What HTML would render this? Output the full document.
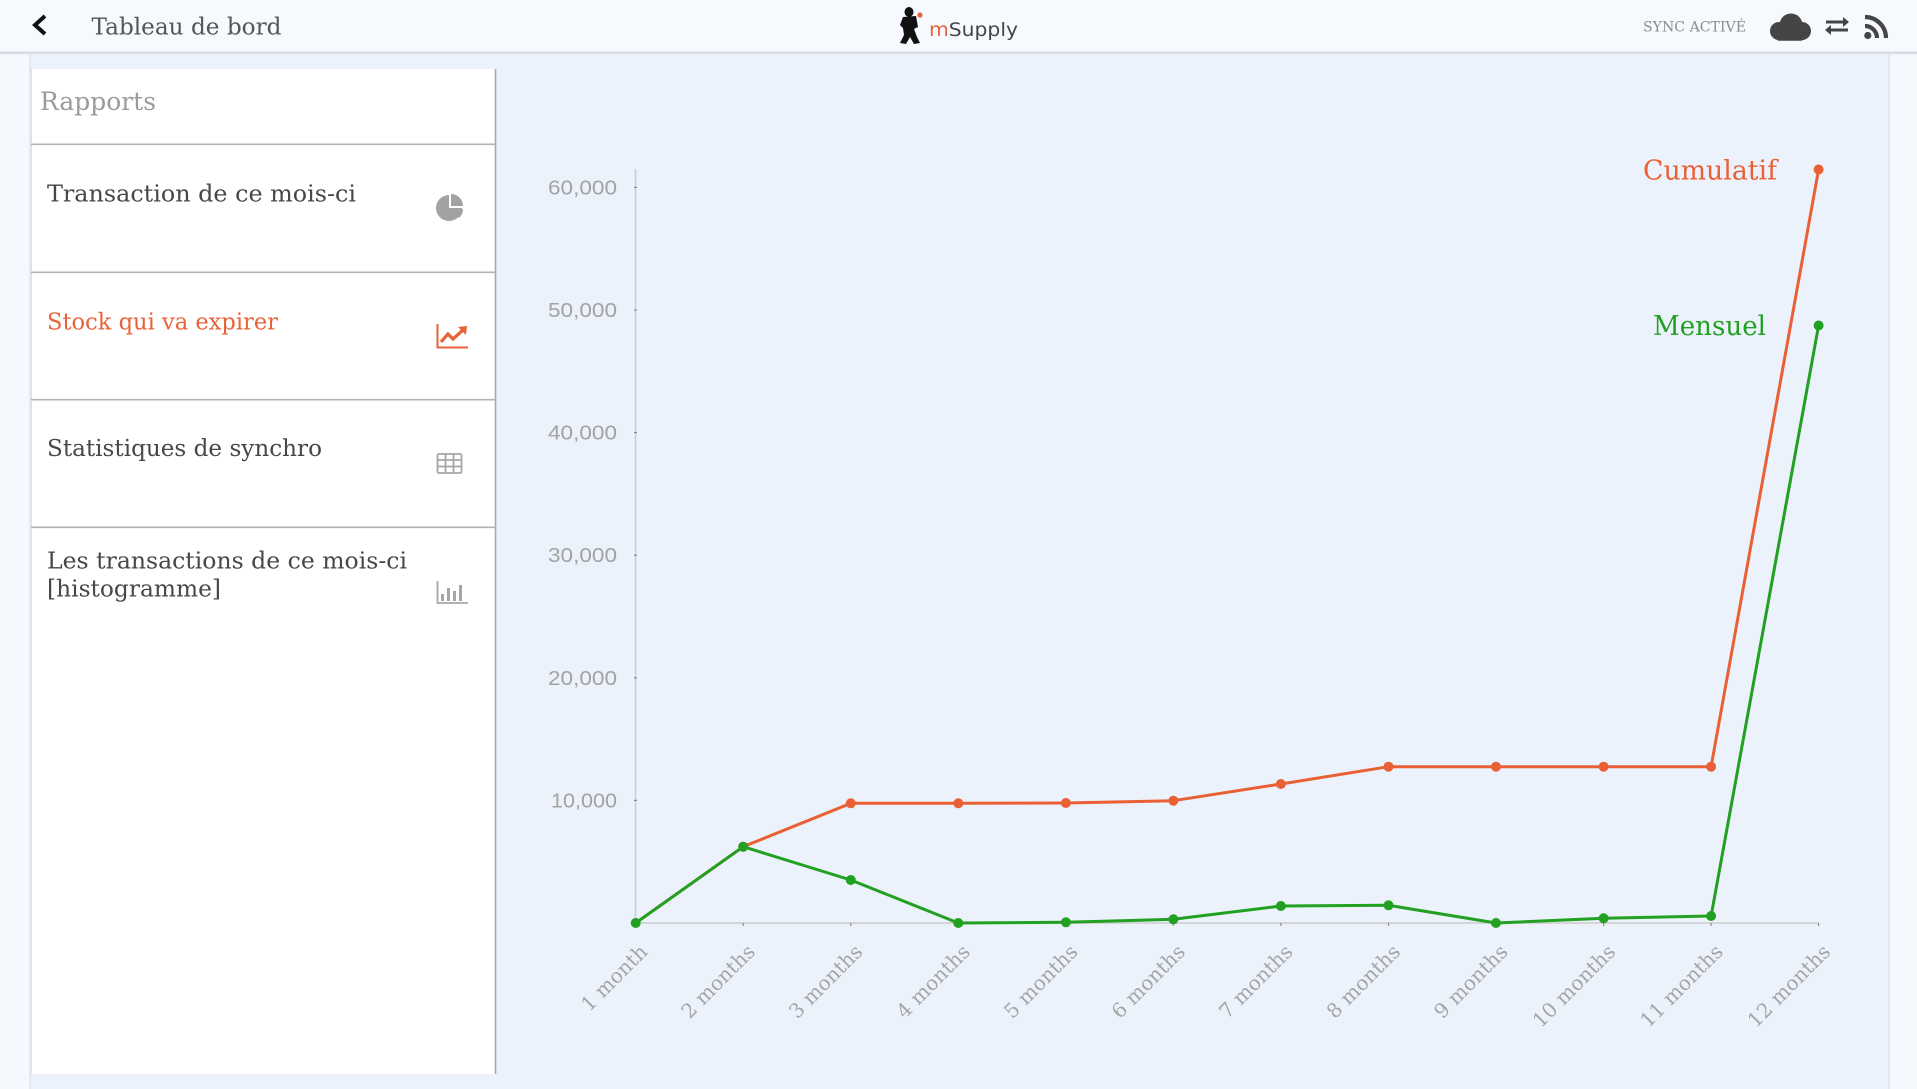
<!DOCTYPE html>
<html><head><meta charset="utf-8"><style>
html,body{margin:0;padding:0;width:1917px;height:1089px;overflow:hidden;background:#f5f8fd;}
svg{display:block;}
</style></head><body>
<svg width="1917" height="1089" viewBox="0 0 1917 1089" xmlns="http://www.w3.org/2000/svg">
<rect x="0" y="0" width="1917" height="1089" fill="#f5f8fd"/>
<rect x="30" y="52" width="1859" height="1037" fill="#ecf2fb"/>
<line x1="30" y1="52" x2="30" y2="1089" stroke="#dfe5ec" stroke-width="1.5"/>
<line x1="1889" y1="52" x2="1889" y2="1089" stroke="#dfe5ec" stroke-width="1.5"/>
<!-- header -->
<rect x="0" y="0" width="1917" height="52" fill="#f6f9fd"/>
<line x1="0" y1="52.5" x2="1917" y2="52.5" stroke="#cdd2d8" stroke-width="1.5"/>
<line x1="0" y1="54" x2="1917" y2="54" stroke="#e2e7ee" stroke-width="1.5"/>
<polyline points="45,16 35,25 45,34" fill="none" stroke="#111" stroke-width="4" stroke-linejoin="miter"/>
<text x="91.5" y="34.3" font-family="DejaVu Serif, Liberation Serif, serif" font-size="23" fill="#555" textLength="190" lengthAdjust="spacingAndGlyphs">Tableau de bord</text>
<!-- logo -->
<g fill="#111">
<ellipse cx="909" cy="12" rx="4.5" ry="5"/>
<path d="M903,17 L916,16 L918,27 L914,29 L917,37 L920,43 L914,44 L910,37 L906,44 L900,43 L904,35 L903,28 L900,25 Z"/>
</g>
<circle cx="920" cy="15" r="2.6" fill="#e8613a"/>
<text x="929" y="36" font-family="DejaVu Sans, Liberation Sans, sans-serif" font-size="19" textLength="89" lengthAdjust="spacingAndGlyphs"><tspan fill="#e8613a">m</tspan><tspan fill="#444">Supply</tspan></text>
<!-- right header -->
<text x="1643" y="31.7" font-family="DejaVu Serif, Liberation Serif, serif" font-size="14" fill="#8c8c8c" textLength="103" lengthAdjust="spacingAndGlyphs">SYNC ACTIVÉ</text>
<g fill="#454545">
<circle cx="1791" cy="25" r="11.5"/>
<circle cx="1779" cy="31" r="9"/>
<circle cx="1802" cy="31" r="9"/>
<rect x="1776" y="29" width="28" height="11.7" rx="3"/>
</g>
<g stroke="#454545" stroke-width="3" fill="none">
<line x1="1826" y1="22" x2="1846" y2="22"/>
<line x1="1828" y1="30" x2="1848" y2="30"/>
</g>
<g fill="#454545">
<polygon points="1843,17 1849,22 1843,27"/>
<polygon points="1831,25 1825,30 1831,35"/>
</g>
<circle cx="1867.8" cy="35.5" r="3.6" fill="#454545"/>
<path d="M1865,26 A12,12 0 0 1 1877,38" fill="none" stroke="#454545" stroke-width="4.2"/>
<path d="M1865,17 A21,21 0 0 1 1886,38" fill="none" stroke="#454545" stroke-width="4.2"/>
<!-- sidebar panel -->
<rect x="31" y="69" width="465" height="1005" fill="#ffffff"/>
<line x1="31.5" y1="69" x2="31.5" y2="1074" stroke="#dde2e8" stroke-width="1"/>
<line x1="495.5" y1="69" x2="495.5" y2="1074" stroke="#a9a9a9" stroke-width="1.6"/>
<g stroke="#b3b3b3" stroke-width="1.6">
<line x1="31" y1="144.3" x2="496" y2="144.3"/>
<line x1="31" y1="272.3" x2="496" y2="272.3"/>
<line x1="31" y1="399.7" x2="496" y2="399.7"/>
<line x1="31" y1="527.3" x2="496" y2="527.3"/>
</g>
<text x="40" y="110" font-family="DejaVu Serif, Liberation Serif, serif" font-size="25" fill="#9b9b9b" textLength="116" lengthAdjust="spacingAndGlyphs">Rapports</text>
<g font-family="DejaVu Serif, Liberation Serif, serif" font-size="23" fill="#474747">
<text x="47" y="201.7" textLength="309" lengthAdjust="spacingAndGlyphs">Transaction de ce mois-ci</text>
<text x="47" y="329.3" fill="#ea6237" textLength="231" lengthAdjust="spacingAndGlyphs">Stock qui va expirer</text>
<text x="47" y="456" textLength="275" lengthAdjust="spacingAndGlyphs">Statistiques de synchro</text>
<text x="47" y="568.3" textLength="360" lengthAdjust="spacingAndGlyphs">Les transactions de ce mois-ci</text>
<text x="47" y="596.3" textLength="174" lengthAdjust="spacingAndGlyphs">[histogramme]</text>
</g>
<!-- sidebar icons -->
<path d="M449,208 L449,195 A13,13 0 1 0 462,208 Z" fill="#a2a2a2"/>
<path d="M451,206 L451,194 A12,12 0 0 1 463,206 Z" fill="#a2a2a2"/>
<path d="M451,209 L463,209 A12,12 0 0 1 459,218 Z" fill="#a2a2a2"/>
<polyline points="437.5,324 437.5,347.5 468,347.5" fill="none" stroke="#ea6237" stroke-width="2"/>
<polyline points="441,342 448,334 453,339 463,330" fill="none" stroke="#ea6237" stroke-width="3.2"/>
<polygon points="458,327 467,326 466,335" fill="#ea6237"/>
<g fill="none" stroke="#a6a6a6" stroke-width="1.8">
<rect x="437.5" y="454" width="24" height="19" rx="1.5"/>
<line x1="437.5" y1="460" x2="461.5" y2="460"/>
<line x1="437.5" y1="466.5" x2="461.5" y2="466.5"/>
<line x1="445.5" y1="454" x2="445.5" y2="473"/>
<line x1="453.5" y1="454" x2="453.5" y2="473"/>
</g>
<polyline points="437.5,581 437.5,603 468,603" fill="none" stroke="#a6a6a6" stroke-width="1.8"/>
<g fill="#a6a6a6">
<rect x="441" y="594" width="3" height="7"/>
<rect x="447" y="588" width="3" height="13"/>
<rect x="453" y="591" width="3" height="10"/>
<rect x="459" y="585" width="3" height="16"/>
</g>
<!-- chart axes -->
<line x1="635.5" y1="169" x2="635.5" y2="923" stroke="#cbcbcb" stroke-width="1.5"/>
<line x1="635" y1="923" x2="1819" y2="923" stroke="#cbcbcb" stroke-width="1.5"/>
<g stroke="#8a8a8a" stroke-width="1.2">
<line x1="634" y1="187.4" x2="637" y2="187.4"/>
<line x1="634" y1="310" x2="637" y2="310"/>
<line x1="634" y1="432.6" x2="637" y2="432.6"/>
<line x1="634" y1="555.2" x2="637" y2="555.2"/>
<line x1="634" y1="677.8" x2="637" y2="677.8"/>
<line x1="634" y1="800.4" x2="637" y2="800.4"/>
<line x1="743.2" y1="923" x2="743.2" y2="926"/>
<line x1="850.8" y1="923" x2="850.8" y2="926"/>
<line x1="958.3" y1="923" x2="958.3" y2="926"/>
<line x1="1065.9" y1="923" x2="1065.9" y2="926"/>
<line x1="1173.4" y1="923" x2="1173.4" y2="926"/>
<line x1="1280.9" y1="923" x2="1280.9" y2="926"/>
<line x1="1388.5" y1="923" x2="1388.5" y2="926"/>
<line x1="1496" y1="923" x2="1496" y2="926"/>
<line x1="1603.6" y1="923" x2="1603.6" y2="926"/>
<line x1="1711.1" y1="923" x2="1711.1" y2="926"/>
<line x1="1818.6" y1="923" x2="1818.6" y2="926"/>
</g>
<g font-family="Liberation Sans, Arial, sans-serif" font-size="20" fill="#a3a3a3" text-anchor="end">
<text x="617" y="194.4" textLength="69" lengthAdjust="spacingAndGlyphs">60,000</text>
<text x="617" y="317" textLength="69" lengthAdjust="spacingAndGlyphs">50,000</text>
<text x="617" y="439.6" textLength="69" lengthAdjust="spacingAndGlyphs">40,000</text>
<text x="617" y="562.2" textLength="69" lengthAdjust="spacingAndGlyphs">30,000</text>
<text x="617" y="684.8" textLength="69" lengthAdjust="spacingAndGlyphs">20,000</text>
<text x="617" y="807.4" textLength="66" lengthAdjust="spacingAndGlyphs">10,000</text>
</g>
<g font-family="DejaVu Serif, Liberation Serif, serif" font-size="20" fill="#a5a5a5" text-anchor="end">
<text transform="translate(648.7,953) rotate(-45)">1 month</text>
<text transform="translate(756.2,953) rotate(-45)">2 months</text>
<text transform="translate(863.8,953) rotate(-45)">3 months</text>
<text transform="translate(971.3,953) rotate(-45)">4 months</text>
<text transform="translate(1078.9,953) rotate(-45)">5 months</text>
<text transform="translate(1186.4,953) rotate(-45)">6 months</text>
<text transform="translate(1293.9,953) rotate(-45)">7 months</text>
<text transform="translate(1401.5,953) rotate(-45)">8 months</text>
<text transform="translate(1509,953) rotate(-45)">9 months</text>
<text transform="translate(1616.6,953) rotate(-45)">10 months</text>
<text transform="translate(1724.1,953) rotate(-45)">11 months</text>
<text transform="translate(1831.6,953) rotate(-45)">12 months</text>
</g>
<!-- series -->
<g fill="#ea6035">
<polyline fill="none" stroke="#ea6035" stroke-width="3" stroke-linejoin="round" points="635.7,923 743.2,846.7 850.8,803.3 958.3,803.3 1065.9,803 1173.4,800.7 1280.9,784 1388.5,766.7 1496,766.7 1603.6,766.7 1711.1,766.7 1818.6,169.5"/>
<circle cx="743.2" cy="846.7" r="5"/><circle cx="850.8" cy="803.3" r="5"/><circle cx="958.3" cy="803.3" r="5"/>
<circle cx="1065.9" cy="803" r="5"/><circle cx="1173.4" cy="800.7" r="5"/><circle cx="1280.9" cy="784" r="5"/>
<circle cx="1388.5" cy="766.7" r="5"/><circle cx="1496" cy="766.7" r="5"/><circle cx="1603.6" cy="766.7" r="5"/>
<circle cx="1711.1" cy="766.7" r="5"/><circle cx="1818.6" cy="169.5" r="5"/>
</g>
<g fill="#22a022">
<polyline fill="none" stroke="#22a022" stroke-width="3" stroke-linejoin="round" points="635.7,923 743.2,846.7 850.8,880 958.3,923 1065.9,922.3 1173.4,919.3 1280.9,906 1388.5,905.3 1496,923 1603.6,918.3 1711.1,916 1818.6,325.5"/>
<circle cx="635.7" cy="923" r="5"/><circle cx="743.2" cy="846.7" r="5"/><circle cx="850.8" cy="880" r="5"/>
<circle cx="958.3" cy="923" r="5"/><circle cx="1065.9" cy="922.3" r="5"/><circle cx="1173.4" cy="919.3" r="5"/>
<circle cx="1280.9" cy="906" r="5"/><circle cx="1388.5" cy="905.3" r="5"/><circle cx="1496" cy="923" r="5"/>
<circle cx="1603.6" cy="918.3" r="5"/><circle cx="1711.1" cy="916" r="5"/><circle cx="1818.6" cy="325.5" r="5"/>
</g>
<g font-family="DejaVu Serif, Liberation Serif, serif" font-size="27" text-anchor="end">
<text x="1777" y="179.3" fill="#ea6035" textLength="134" lengthAdjust="spacingAndGlyphs">Cumulatif</text>
<text x="1766" y="335" fill="#22a022" textLength="113" lengthAdjust="spacingAndGlyphs">Mensuel</text>
</g>
</svg>
</body></html>
